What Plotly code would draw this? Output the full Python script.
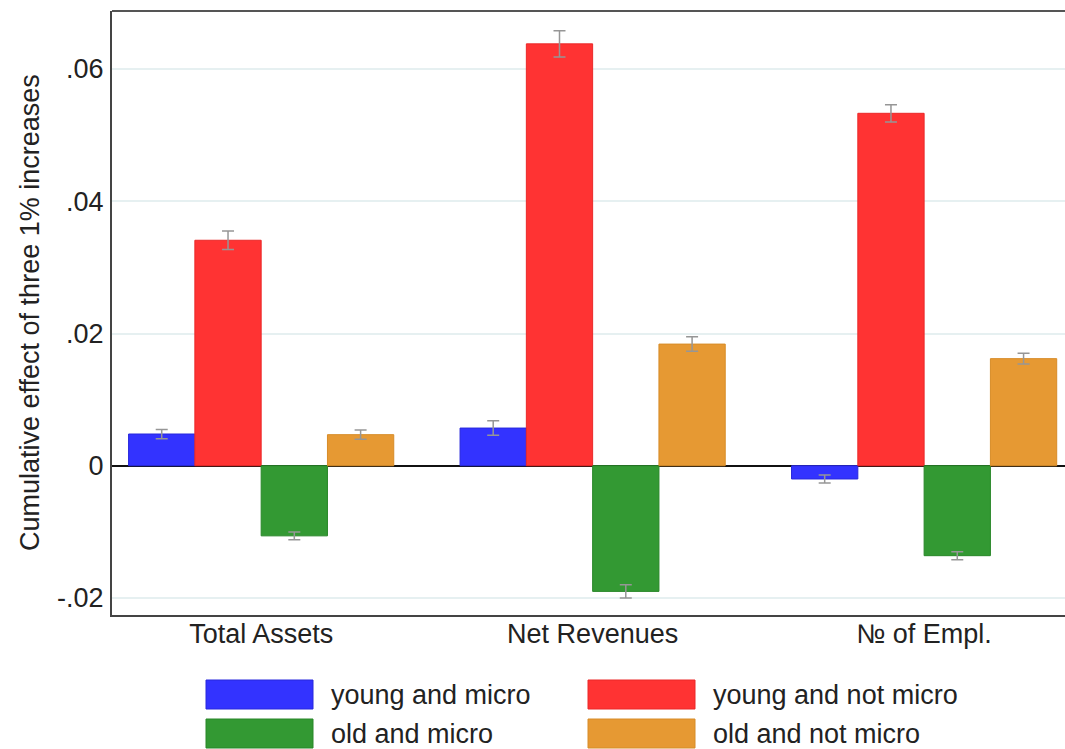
import plotly.graph_objects as go

categories = ["Total Assets", "Net Revenues", "№ of Empl."]
series_names = ["young and micro", "young and not micro", "old and micro", "old and not micro"]
young_micro = [0.0048, 0.0057, -0.0020]
young_not_micro = [0.0341, 0.0638, 0.0533]
old_micro = [-0.0106, -0.0190, -0.0136]
old_not_micro = [0.0047, 0.0184, 0.0162]
young_micro_err = [0.0007, 0.0011, 0.0006]
young_not_micro_err = [0.0014, 0.0020, 0.0013]
old_micro_err = [0.0006, 0.0010, 0.0006]
old_not_micro_err = [0.0007, 0.0011, 0.0008]
y_tick_vals = [-0.02, 0, 0.02, 0.04, 0.06]
y_tick_text = ["-.02", "0", ".02", ".04", ".06"]

values = [young_micro, young_not_micro, old_micro, old_not_micro]
errors = [young_micro_err, young_not_micro_err, old_micro_err, old_not_micro_err]
fills = ["rgb(51,51,255)", "rgb(255,51,51)", "rgb(51,153,51)", "rgb(230,153,51)"]
edges = ["rgb(40,40,220)", "rgb(235,40,40)", "rgb(40,135,40)", "rgb(215,140,40)"]

W, H = 1065, 749
L, R, T, B = 112, 0, 11, 134
PW, PH = W - L - R, H - T - B

def px(x):
    return (x - L) / PW

def py(y):
    return (H - B - y) / PH

fig = go.Figure()
for name, v, e, f, ec in zip(series_names, values, errors, fills, edges):
    fig.add_trace(go.Bar(
        x=list(range(len(categories))), y=v, name=name,
        marker=dict(color=f, line=dict(color=ec, width=1)),
        error_y=dict(type="data", array=e, visible=True, color="rgb(150,150,150)",
                     thickness=1.5, width=6),
        showlegend=False,
    ))

font_fam = "Liberation Sans, Arial, sans-serif"
FS = 27
fig.update_layout(
    width=W, height=H,
    margin=dict(l=L, r=R, t=T, b=B),
    paper_bgcolor="white", plot_bgcolor="white",
    barmode="group", bargap=0.2, bargroupgap=0,
    font=dict(family=font_fam, color="#222222", size=FS),
    xaxis=dict(
        tickmode="array", tickvals=list(range(len(categories))), ticktext=categories,
        range=[-0.45, 2.425], showgrid=False, zeroline=False,
        showline=True, linecolor="#444444", linewidth=2, ticks="",
        ticklabelstandoff=-6,
        tickfont=dict(size=FS, color="#222222"),
    ),
    yaxis=dict(
        range=[-0.02257, 0.06877], tickvals=y_tick_vals, ticktext=y_tick_text,
        showgrid=True, gridcolor="#e6f0f1", gridwidth=1.5,
        zeroline=True, zerolinecolor="#111111", zerolinewidth=1.5,
        showline=True, linecolor="#444444", linewidth=2, ticks="",
        ticklabelstandoff=1,
        tickfont=dict(size=FS, color="#222222"),
    ),
)

# top frame line
fig.add_shape(type="line", xref="paper", yref="paper", x0=0, x1=1, y0=1, y1=1,
              line=dict(color="#555555", width=2))

# y-axis title
fig.add_annotation(text="Cumulative effect of three 1% increases", xref="paper", yref="paper",
                   x=px(30), y=py(313), textangle=-90, showarrow=False,
                   xanchor="center", yanchor="middle",
                   font=dict(size=FS, color="#222222", family=font_fam))

# legend (drawn manually to reproduce the large key boxes)
legend_pos = [(206, 680), (588, 680), (206, 719), (588, 719)]
for (lx, ly), name, f, ec in zip(legend_pos, series_names, fills, edges):
    fig.add_shape(type="rect", xref="paper", yref="paper",
                  x0=px(lx), x1=px(lx + 107), y0=py(ly), y1=py(ly + 29),
                  fillcolor=f, line=dict(color=ec, width=1))
    fig.add_annotation(text=name, xref="paper", yref="paper",
                       x=px(lx + 123), y=py(ly + 14.5), showarrow=False,
                       xanchor="left", yanchor="middle",
                       font=dict(size=FS, color="#222222", family=font_fam))

fig.write_html("out.html")
